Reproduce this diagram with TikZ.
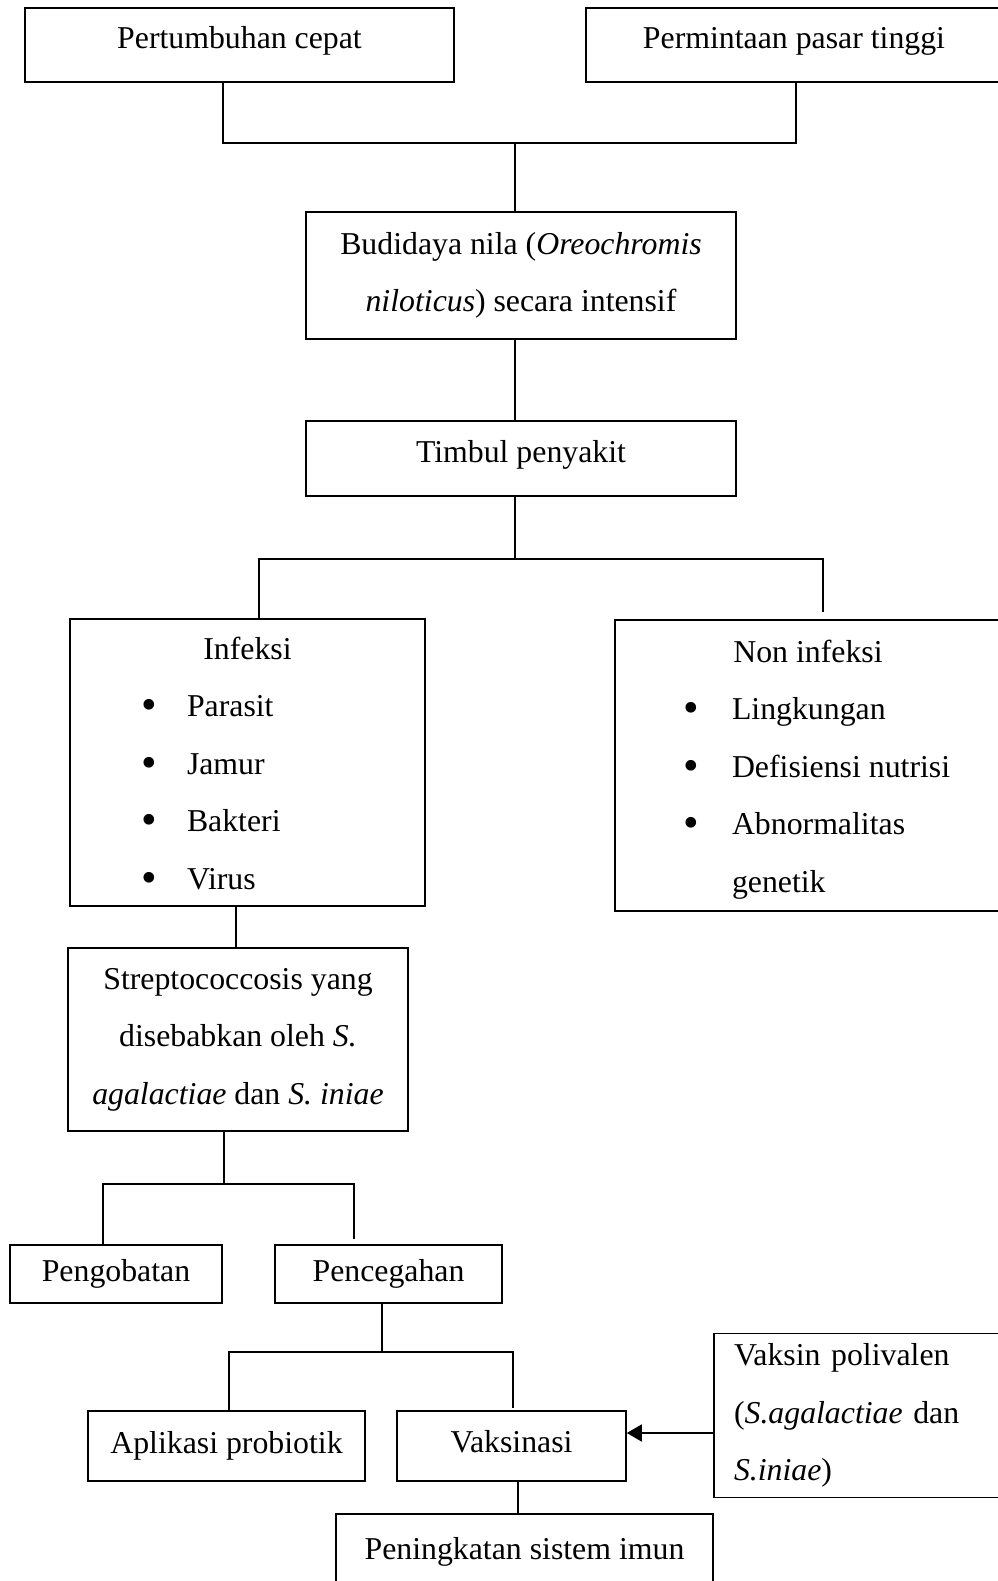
\documentclass[tikz,border=0pt]{standalone}
\usepackage{fontspec}
\setmainfont{Liberation Serif}
\usepackage{array}
\usetikzlibrary{arrows.meta, positioning}
\newcommand{\butir}{\raisebox{-3pt}{\scalebox{1.4}{\textbullet}}}

\begin{document}
\begin{tikzpicture}[
  x=1pt, y=-1pt,
  kotak/.style={draw, line width=1.6pt, inner sep=0pt, align=center, font=\fontsize{31.8}{57.5}\selectfont},
  atas/.style={text depth=15pt},
  garis/.style={line width=1.6pt},
  panah/.style={-{Triangle[length=15pt, width=17pt]}, line width=1.6pt}
]
  \useasboundingbox (0,0) rectangle (997,1581);

  \node[kotak, atas, minimum width=429pt, minimum height=74pt] (tumbuh) at (239.5,45) {Pertumbuhan cepat};
  \node[kotak, atas, minimum width=416pt, minimum height=74pt] (minta) at (794,45) {Permintaan pasar tinggi};
  \node[kotak, minimum width=430pt, minimum height=127pt] (budidaya) at (521,275.5)
    {Budidaya nila (\textit{Oreochromis}\\\textit{niloticus}) secara intensif};
  \node[kotak, atas, minimum width=430pt, minimum height=75pt] (timbul) at (521,458.5) {Timbul penyakit};

  \node[kotak, minimum width=355pt, minimum height=285pt] (infeksi) at (247.5,762.5) {%
    \begin{tabular}{@{}p{117pt}@{}p{238pt}@{}}
      \multicolumn{2}{c}{Infeksi}\\
      \hspace*{71pt}\butir & Parasit\\
      \hspace*{71pt}\butir & Jamur\\
      \hspace*{71pt}\butir & Bakteri\\
      \hspace*{71pt}\butir & Virus
    \end{tabular}};
  \node[kotak, minimum width=386pt, minimum height=291pt] (noninfeksi) at (808,765.5) {%
    \begin{tabular}{@{}p{117pt}@{}p{269pt}@{}}
      \multicolumn{2}{c}{Non infeksi}\\
      \hspace*{68pt}\butir & Lingkungan\\
      \hspace*{68pt}\butir & Defisiensi nutrisi\\
      \hspace*{68pt}\butir & Abnormalitas\\
      & genetik
    \end{tabular}};

  \node[kotak, minimum width=340pt, minimum height=183pt] (strepto) at (238,1039.5)
    {Streptococcosis yang\\disebabkan oleh \textit{S.}\\\textit{agalactiae} dan \textit{S. iniae}};
  \node[kotak, minimum width=212pt, minimum height=58pt] (obat) at (116,1274) {Pengobatan};
  \node[kotak, minimum width=227pt, minimum height=58pt] (cegah) at (388.5,1274) {Pencegahan};
  \node[kotak, minimum width=277pt, minimum height=70pt] (probiotik) at (226.5,1446) {Aplikasi probiotik};
  \node[kotak, text depth=10pt, minimum width=229pt, minimum height=70pt] (vaksinasi) at (511.5,1446) {Vaksinasi};
  \node[kotak, align=left, text width=251pt, inner xsep=20pt, minimum height=164pt] (polivalen) at (859.5,1415.5)
    {Vaksin polivalen\\(\textit{S.agalactiae} dan\\\textit{S.iniae})};
  \node[kotak, minimum width=377pt, minimum height=76pt] (imun) at (524.5,1552) {Peningkatan sistem imun};

  % simpul percabangan
  \coordinate (c1) at (515,143);
  \coordinate (c2) at (515,559);
  \coordinate (c3) at (224,1184);
  \coordinate (c4) at (382,1352);

  \draw[garis] ([xshift=-16.5pt]tumbuh.south) |- (c1) -| ([xshift=2pt]minta.south);
  \draw[garis] (c1) -- (c1 |- budidaya.north);
  \draw[garis] ([xshift=-6pt]budidaya.south) -- ([xshift=-6pt]timbul.north);
  \draw[garis] ([xshift=-6pt]timbul.south) -- (c2);
  \draw[garis] ([xshift=11.5pt]infeksi.north) |- (c2) -| ([xshift=15pt, yshift=7pt]noninfeksi.north);
  \draw[garis] ([xshift=-11.5pt]infeksi.south) -- ([xshift=-11.5pt]infeksi.south |- strepto.north);
  \draw[garis] ([xshift=-14pt]strepto.south) -- (c3);
  \draw[garis] ([xshift=-13pt]obat.north) |- (c3) -| ([xshift=-34.5pt, yshift=5pt]cegah.north);
  \draw[garis] ([xshift=-6.5pt]cegah.south) -- (c4);
  \draw[garis] ([xshift=2.5pt]probiotik.north) |- (c4) -| ([xshift=1.5pt, yshift=2pt]vaksinasi.north);
  \draw[panah] ([yshift=-17.5pt]polivalen.west) -- ([yshift=-17.5pt]polivalen.west -| vaksinasi.east);
  \draw[garis] ([xshift=6.5pt]vaksinasi.south) -- ([xshift=6.5pt]vaksinasi.south |- imun.north);
\end{tikzpicture}
\end{document}
